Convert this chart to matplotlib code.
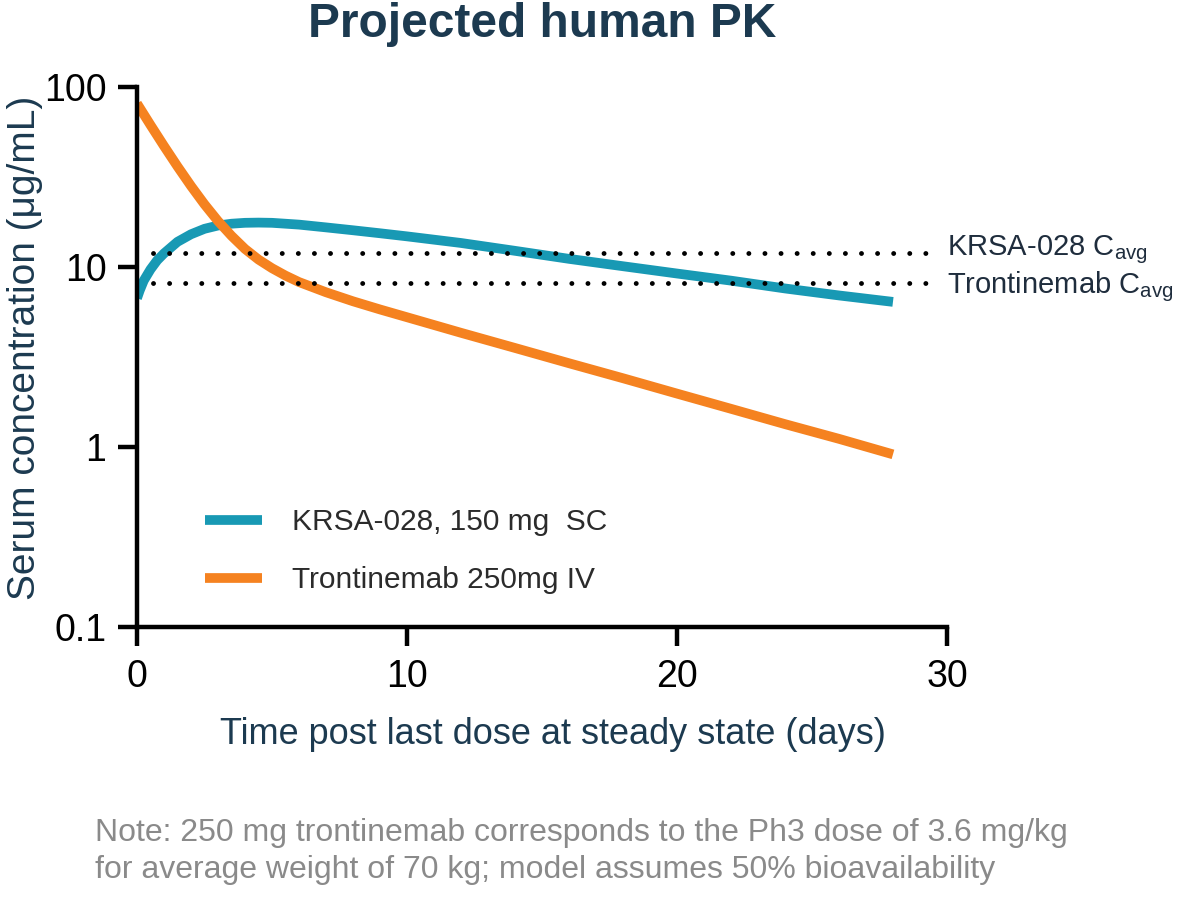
import matplotlib
matplotlib.use("Agg")
import matplotlib.pyplot as plt

plt.rcParams['font.family'] = ['Liberation Sans', 'DejaVu Sans']

# values (days, ug/mL)
krsa_t = [0, 0.1, 0.25, 0.5, 0.75, 1.0, 1.5, 2.0, 2.5, 3.0, 3.5, 4.0, 4.5,
          5.0, 5.5, 6.0, 7.0, 8.0, 9.0, 10, 12, 14, 16, 18, 20, 22, 24,
          26, 28]
krsa_c = [6.7, 7.4, 8.4, 9.7, 10.9, 11.9, 13.8, 15.2, 16.3, 17.0, 17.4,
          17.6, 17.65, 17.6, 17.4, 17.2, 16.6, 16.0, 15.4, 14.8, 13.6, 12.3,
          11.1, 10.1, 9.2, 8.4, 7.6, 6.95, 6.4]

tront_t = [0, 0.5, 1.0, 1.5, 2.0, 2.5, 3.0, 3.5, 4.0, 4.5, 5.0, 5.5, 6.0,
           7.0, 8.0, 9.0, 10, 12, 14, 16, 18, 20, 22, 24, 26, 28]
tront_c = [81, 61.5, 47.0, 36.2, 28.2, 22.3, 18.0, 14.9, 12.6, 11.0, 9.85,
           8.96, 8.25, 7.24, 6.45, 5.81, 5.26, 4.31, 3.55, 2.92, 2.41, 1.98,
           1.63, 1.34, 1.11, 0.91]

cavg_labels = ['KRSA-028 C$_{\\mathregular{avg}}$',
               'Trontinemab C$_{\\mathregular{avg}}$']
cavg_values = [11.9, 8.1]

series_labels = ['KRSA-028, 150 mg  SC', 'Trontinemab 250mg IV']
x_ticks = [0, 10, 20, 30]
y_ticks = [0.1, 1, 10, 100]
y_tick_labels = ['0.1', '1', '10', '100']

note_lines = ['Note: 250 mg trontinemab corresponds to the Ph3 dose of 3.6 mg/kg',
              'for average weight of 70 kg; model assumes 50% bioavailability']

teal = '#1899b4'
orange = '#f58220'
navy = '#1c3a50'

fig = plt.figure(figsize=(11.84, 8.98), dpi=100)
ax = fig.add_axes([0.1157, 0.3018, 0.6841, 0.6013])

ax.plot(krsa_t, krsa_c, color=teal, lw=7, solid_capstyle='butt',
        solid_joinstyle='round', label=series_labels[0])
ax.plot(tront_t, tront_c, color=orange, lw=7, solid_capstyle='butt',
        solid_joinstyle='round', label=series_labels[1])

# dotted Cavg reference lines, labels nudged apart a little
for v, lab, dy in zip(cavg_values, cavg_labels, [2.5, -2.5]):
    ax.plot([0.6, 29.4], [v, v], color='black', lw=3.5,
            linestyle=(0, (0.01, 3.3)), dash_capstyle='round')
    ax.annotate(lab, xy=(30.0, v), xytext=(0, dy), textcoords='offset points',
                fontsize=21, color='#1f2d3d', va='center', ha='left',
                annotation_clip=False)

ax.set_yscale('log')
ax.set_xlim(0, 30)
ax.set_ylim(0.1, 100)
ax.set_xticks(x_ticks)
ax.set_yticks(y_ticks)
ax.set_yticklabels(y_tick_labels)
ax.minorticks_off()
ax.tick_params(axis='both', length=14, width=3.2, labelsize=27,
               colors='black')
ax.tick_params(axis='y', pad=8)
ax.tick_params(axis='x', pad=9)
for side in ['top', 'right']:
    ax.spines[side].set_visible(False)
for side in ['left', 'bottom']:
    ax.spines[side].set_linewidth(3.2)

ax.set_xlabel('Time post last dose at steady state (days)', fontsize=26,
              color=navy, va='center')
ax.xaxis.set_label_coords(0.514, (627 - 735) / 540)
ax.set_ylabel('Serum concentration (\u03bcg/mL)', fontsize=28,
              color=navy, va='center')
ax.yaxis.set_label_coords((25 - 137) / 810, (627 - 348) / 540)
ax.set_title('Projected human PK', fontsize=34.5, fontweight='bold',
             color=navy, pad=36)

leg = ax.legend(loc='upper left', bbox_to_anchor=(0.084, 0.22),
                frameon=False, fontsize=21.5, handlelength=1.9,
                handletextpad=1.0, labelspacing=1.0, borderpad=0,
                borderaxespad=0)
for t in leg.get_texts():
    t.set_color('#2b2b2b')

fig.text(95 / 1184, 1 - 833 / 898, note_lines[0],
         fontsize=23, color='#8a8a8a', va='center', ha='left')
fig.text(95 / 1184, 1 - 870 / 898, note_lines[1],
         fontsize=23, color='#8a8a8a', va='center', ha='left')

fig.savefig('out.png', dpi=100)
